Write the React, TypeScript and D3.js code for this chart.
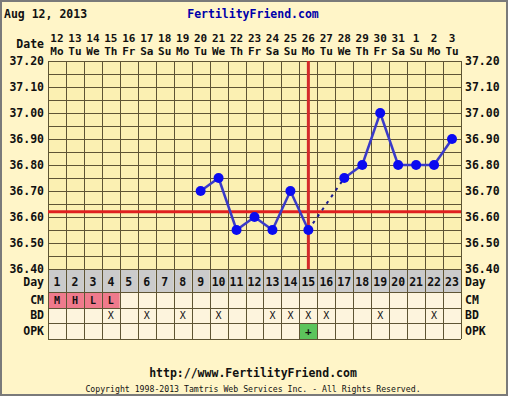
import React from 'react';
import * as d3 from 'd3';

const chartDate = 'Aug 12, 2013';
const siteTitle = 'FertilityFriend.com';
const footerUrl = 'http://www.FertilityFriend.com';
const copyright = 'Copyright 1998-2013 Tamtris Web Services Inc. - All Rights Reserved.';

const cycleDays = [1, 2, 3, 4, 5, 6, 7, 8, 9, 10, 11, 12, 13, 14, 15, 16, 17, 18, 19, 20, 21, 22, 23];
const dates = ['12', '13', '14', '15', '16', '17', '18', '19', '20', '21', '22', '23', '24', '25', '26', '27', '28', '29', '30', '31', '1', '2', '3'];
const weekdays = ['Mo', 'Tu', 'We', 'Th', 'Fr', 'Sa', 'Su', 'Mo', 'Tu', 'We', 'Th', 'Fr', 'Sa', 'Su', 'Mo', 'Tu', 'We', 'Th', 'Fr', 'Sa', 'Su', 'Mo', 'Tu'];
const temps: (number | null)[] = [null, null, null, null, null, null, null, null, 36.70, 36.75, 36.55, 36.60, 36.55, 36.70, 36.55, null, 36.75, 36.80, 37.00, 36.80, 36.80, 36.80, 36.90];
const cm = ['M', 'H', 'L', 'L', '', '', '', '', '', '', '', '', '', '', '', '', '', '', '', '', '', '', ''];
const bd = ['', '', '', 'X', '', 'X', '', 'X', '', 'X', '', '', 'X', 'X', 'X', 'X', '', '', 'X', '', '', 'X', ''];
const opk = ['', '', '', '', '', '', '', '', '', '', '', '', '', '', '+', '', '', '', '', '', '', '', ''];
const yTicks = [37.2, 37.1, 37.0, 36.9, 36.8, 36.7, 36.6, 36.5, 36.4];
const yGrid = [37.2, 37.15, 37.1, 37.05, 37.0, 36.95, 36.9, 36.85, 36.8, 36.75, 36.7, 36.65, 36.6, 36.55, 36.5, 36.45, 36.4];
const coverline = 36.62;
const ovulationDay = 15;

const W = 509;
const H = 398;
const left = 48;
const right = 461;
const top = 61;
const bottom = 269;
const rows = [
  { key: 'Day', y0: 269, y1: 292 },
  { key: 'CM', y0: 292, y1: 308 },
  { key: 'BD', y0: 308, y1: 323 },
  { key: 'OPK', y0: 323, y1: 339 },
];

const FONT = '"DejaVu Sans Mono", monospace';
const GRID = '#5e5434';
const BG = '#fff5c8';
const PLOT = '#fbf0b2';
const CELL = '#fdf4dd';

export default function App() {
  const x = d3.scaleBand<number>().domain(cycleDays).range([left, right]).paddingInner(0).paddingOuter(0);
  const y = d3.scaleLinear().domain([36.4, 37.2]).range([bottom, top]);
  const cx = (d: number) => (x(d) as number) + x.bandwidth() / 2;
  const snap = (v: number) => Math.round(v) + 0.5;

  const pts = cycleDays
    .map((d, i) => ({ d, t: temps[i] }))
    .filter((p) => p.t !== null) as { d: number; t: number }[];
  const solidSegs: [typeof pts[0], typeof pts[0]][] = [];
  const dashSegs: [typeof pts[0], typeof pts[0]][] = [];
  for (let i = 1; i < pts.length; i++) {
    if (pts[i].d - pts[i - 1].d === 1) solidSegs.push([pts[i - 1], pts[i]]);
    else dashSegs.push([pts[i - 1], pts[i]]);
  }
  const line = d3.line<{ d: number; t: number }>().x((p) => cx(p.d)).y((p) => y(p.t));

  const txt = { fontFamily: FONT, fontWeight: 700, fontSize: 11.5, fill: '#111' } as const;

  return (
    <svg width={W} height={H} style={{ position: 'absolute', left: 0, top: 0, display: 'block' }}>
      <rect x={0} y={0} width={W} height={H} fill="#fff" />
      <rect x={1} y={1} width={506} height={394} fill={BG} stroke="#7a7a7a" strokeWidth={2} />
      <text x={4} y={18} {...txt}>{chartDate}</text>
      <text x={253} y={18} {...txt} fill="#0000aa" textAnchor="middle">{siteTitle}</text>

      {/* date header */}
      <text x={44} y={48} {...txt} textAnchor="end">Date</text>
      {cycleDays.map((d, i) => (
        <g key={'dh' + d}>
          <text x={cx(d)} y={42} {...txt} fontSize={11} textAnchor="middle">{dates[i]}</text>
          <text x={cx(d)} y={55} {...txt} fontSize={11} textAnchor="middle">{weekdays[i]}</text>
        </g>
      ))}

      {/* plot */}
      <rect x={left} y={top} width={right - left} height={bottom - top} fill={PLOT} />
      {yGrid.map((v) => (
        <line key={'hg' + v} x1={left} x2={right} y1={snap(y(v))} y2={snap(y(v))} stroke={GRID} strokeWidth={1} />
      ))}
      {cycleDays.map((d) => (
        <line key={'vg' + d} x1={snap(x(d) as number)} x2={snap(x(d) as number)} y1={top} y2={339} stroke={GRID} strokeWidth={1} />
      ))}
      <line x1={snap(right)} x2={snap(right)} y1={top} y2={339} stroke={GRID} strokeWidth={1} />

      {yTicks.map((v) => (
        <g key={'yt' + v}>
          <text x={44} y={y(v) + 4} {...txt} textAnchor="end">{v.toFixed(2)}</text>
          <text x={465} y={y(v) + 4} {...txt}>{v.toFixed(2)}</text>
        </g>
      ))}

      {/* table rows */}
      {cycleDays.map((d, i) => {
        const x0 = x(d) as number;
        const w = x.bandwidth();
        return (
          <g key={'tb' + d}>
            <rect x={x0} y={rows[0].y0} width={w} height={rows[0].y1 - rows[0].y0} fill="#cbcbcb" />
            <rect x={x0} y={rows[1].y0} width={w} height={rows[1].y1 - rows[1].y0} fill={cm[i] ? '#ef7a8c' : CELL} />
            <rect x={x0} y={rows[2].y0} width={w} height={rows[2].y1 - rows[2].y0} fill={CELL} />
            <rect x={x0} y={rows[3].y0} width={w} height={rows[3].y1 - rows[3].y0} fill={opk[i] ? '#5cc45c' : CELL} />
          </g>
        );
      })}
      {rows.map((r) => (
        <line key={'rl' + r.key} x1={left} x2={right} y1={snap(r.y0)} y2={snap(r.y0)} stroke={GRID} strokeWidth={1} />
      ))}
      <line x1={left} x2={right} y1={snap(339)} y2={snap(339)} stroke={GRID} strokeWidth={1} />
      {cycleDays.map((d) => (
        <line key={'tv' + d} x1={snap(x(d) as number)} x2={snap(x(d) as number)} y1={bottom} y2={339} stroke={GRID} strokeWidth={1} />
      ))}
      <line x1={snap(right)} x2={snap(right)} y1={bottom} y2={339} stroke={GRID} strokeWidth={1} />

      {cycleDays.map((d, i) => (
        <g key={'tt' + d}>
          <text x={cx(d)} y={286} {...txt} textAnchor="middle">{String(d)}</text>
          {cm[i] && <text x={cx(d)} y={304} {...txt} fontSize={10} textAnchor="middle">{cm[i]}</text>}
          {bd[i] && <text x={cx(d)} y={319} {...txt} fontWeight={400} fontSize={10} textAnchor="middle">{bd[i]}</text>}
          {opk[i] && <text x={cx(d)} y={335} {...txt} fontSize={11} textAnchor="middle">{opk[i]}</text>}
        </g>
      ))}
      {rows.map((r) => (
        <g key={'lab' + r.key}>
          <text x={44} y={r.key === 'Day' ? 286 : r.y1 - 4} {...txt} textAnchor="end">{r.key}</text>
          <text x={465} y={r.key === 'Day' ? 286 : r.y1 - 4} {...txt}>{r.key}</text>
        </g>
      ))}

      {/* coverline & ovulation */}
      <line x1={left} x2={right} y1={y(coverline)} y2={y(coverline)} stroke="#e02020" strokeWidth={3} />
      <line x1={cx(ovulationDay)} x2={cx(ovulationDay)} y1={top} y2={bottom} stroke="#d42a2a" strokeWidth={3} />

      {/* temperature line */}
      {solidSegs.map((s, i) => (
        <path key={'s' + i} d={line(s) as string} fill="none" stroke="#3a3ac8" strokeWidth={2.5} />
      ))}
      {dashSegs.map((s, i) => (
        <path key={'ds' + i} d={line(s) as string} fill="none" stroke="#1a1a90" strokeWidth={2} strokeDasharray="3,5" />
      ))}
      {pts.map((p) => (
        <circle key={'p' + p.d} cx={cx(p.d)} cy={y(p.t)} r={5} fill="#0a0af0" />
      ))}

      <text x={253} y={377} {...txt} textAnchor="middle">{footerUrl}</text>
      <text x={253} y={392} fontFamily={FONT} fontSize={8.2} fill="#111" textAnchor="middle">{copyright}</text>
    </svg>
  );
}
